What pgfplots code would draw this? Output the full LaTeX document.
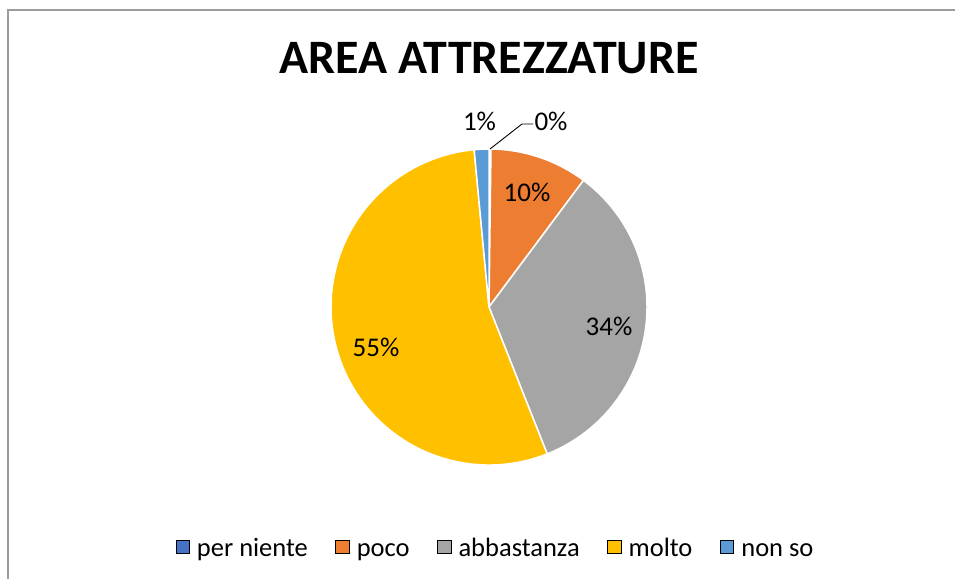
\documentclass[border=0pt]{standalone}
\usepackage{pgfplots}
\pgfplotsset{compat=1.18}
\usepackage{pgfplotstable}
\usepackage{fontspec}
\setmainfont{Carlito}
\definecolor{cPer}{HTML}{4472C4}
\definecolor{cPoco}{HTML}{ED7D31}
\definecolor{cAbb}{HTML}{A5A5A5}
\definecolor{cMolto}{HTML}{FFC000}
\definecolor{cNonso}{HTML}{5B9BD5}
\definecolor{cFrame}{HTML}{9C9C9C}
\pgfplotstableread[col sep=comma]{
label,value,color
per niente,0.2,cPer
poco,10.0,cPoco
abbastanza,33.8,cAbb
molto,54.5,cMolto
non so,1.5,cNonso
}\piedata
\begin{document}
\begin{tikzpicture}
\useasboundingbox (0,0) rectangle (955pt,579pt);
\begin{axis}[at={(0,0)}, anchor=south west, scale only axis,
  width=955pt, height=579pt,
  xmin=-489, xmax=466, ymin=-272, ymax=307,
  hide axis, clip=false,
  legend columns=5,
  legend style={at={(axis cs:6.5,-240)}, anchor=center, draw=none, fill=none,
    font=\fontsize{26.5}{30}\selectfont,
    /tikz/every even column/.append style={column sep=25.5pt}},
  legend cell align=left,
  legend image code/.code={\fill[#1] (0pt,-6.5pt) rectangle (13.5pt,6.5pt); \path (19pt,0pt);}
]
\def\piecum{0}
\pgfplotsforeachungrouped \i in {0,...,4}{%
  \pgfplotstablegetelem{\i}{value}\of\piedata
  \let\pieval=\pgfplotsretval
  \pgfplotstablegetelem{\i}{color}\of\piedata
  \let\piecol=\pgfplotsretval
  \pgfmathsetmacro\piea{90-\piecum*3.6}
  \pgfmathsetmacro\pieb{90-(\piecum+\pieval)*3.6}
  \edef\temp{\noexpand\fill[fill=\piecol, draw=white, line width=1.5pt, line join=round]
    (axis cs:0,0) -- ++(\piea:158pt) arc[start angle=\piea, end angle=\pieb, radius=158pt] -- cycle;}
  \temp
  \pgfmathsetmacro\piecum{\piecum+\pieval}
}
\addlegendimage{fill=cPer}\addlegendentry{per niente\strut}
\addlegendimage{fill=cPoco}\addlegendentry{poco\strut}
\addlegendimage{fill=cAbb}\addlegendentry{abbastanza\strut}
\addlegendimage{fill=cMolto}\addlegendentry{molto\strut}
\addlegendimage{fill=cNonso}\addlegendentry{non so\strut}
\node[font=\fontsize{48}{56}\selectfont\bfseries] at (axis cs:0,249) {AREA ATTREZZATURE};
\node[font=\fontsize{27}{30}\selectfont] at (axis cs:-113,-40) {55\%};
\node[font=\fontsize{27}{30}\selectfont] at (axis cs:120,-19) {34\%};
\node[font=\fontsize{27}{30}\selectfont] at (axis cs:38,115) {10\%};
\node[font=\fontsize{27}{30}\selectfont] at (axis cs:-9.5,186) {1\%};
\node[font=\fontsize{27}{30}\selectfont] at (axis cs:62,186) {0\%};
\draw[black, line width=0.9pt] (axis cs:1,158) -- (axis cs:33,183) -- (axis cs:44,183);
\end{axis}
\draw[cFrame, line width=1.5pt] (8pt,0pt) -- (8pt,569pt) -- (956pt,569pt);
\end{tikzpicture}
\end{document}
